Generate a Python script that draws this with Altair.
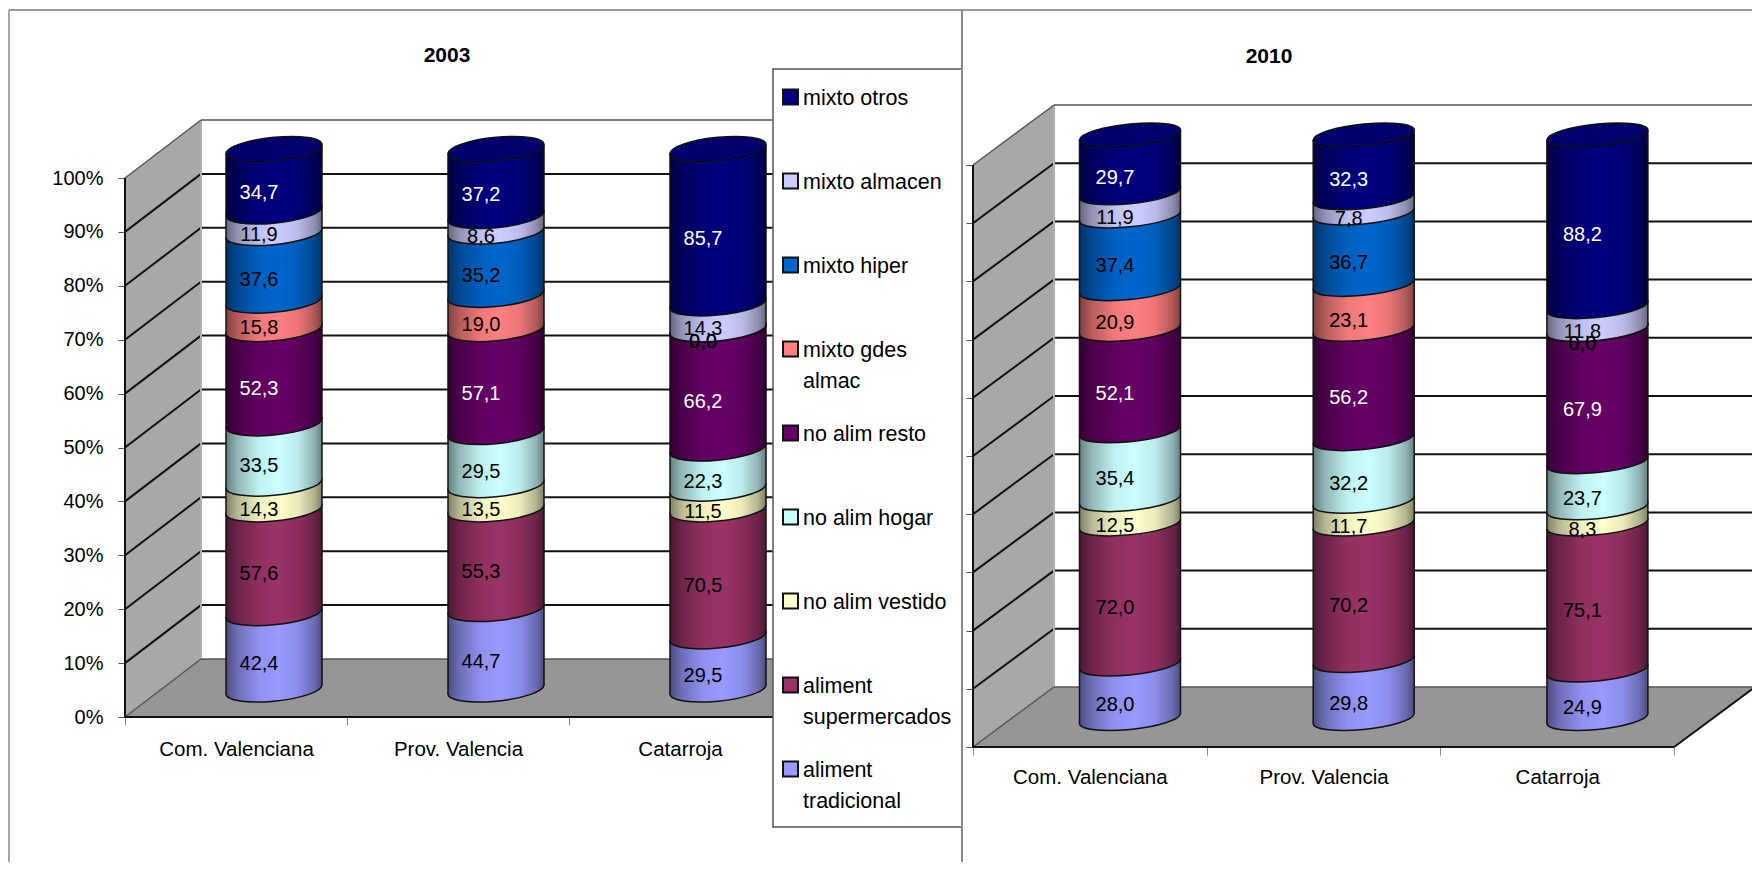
import altair as alt
import pandas as pd

categories = ["Com. Valenciana", "Prov. Valencia", "Catarroja"]
series = ["aliment tradicional", "aliment supermercados", "no alim vestido", "no alim hogar",
          "no alim resto", "mixto gdes almac", "mixto hiper", "mixto almacen", "mixto otros"]
colors = ["#9999FF", "#993366", "#FFFFCC", "#CCFFFF", "#660066", "#FF8080", "#0066CC", "#CCCCFF", "#000080"]
label_colors = ["black", "black", "black", "black", "white", "black", "black", "black", "white"]
legend_labels = ["aliment\ntradicional", "aliment\nsupermercados", "no alim vestido", "no alim hogar",
                 "no alim resto", "mixto gdes\nalmac", "mixto hiper", "mixto almacen", "mixto otros"]
values_2003 = [
    [42.4, 57.6, 14.3, 33.5, 52.3, 15.8, 37.6, 11.9, 34.7],
    [44.7, 55.3, 13.5, 29.5, 57.1, 19.0, 35.2, 8.6, 37.2],
    [29.5, 70.5, 11.5, 22.3, 66.2, 0.0, 0.0, 14.3, 85.7],
]
values_2010 = [
    [28.0, 72.0, 12.5, 35.4, 52.1, 20.9, 37.4, 11.9, 29.7],
    [29.8, 70.2, 11.7, 32.2, 56.2, 23.1, 36.7, 7.8, 32.3],
    [24.9, 75.1, 8.3, 23.7, 67.9, 0.0, 0.0, 11.8, 88.2],
]
axis_ticks = list(range(0, 101, 10))

FONT = "Liberation Sans"
W, H = 1744, 854
ONE = pd.DataFrame([{"a": 0}])


def shade(c, f):
    r, g, b = int(c[1:3], 16), int(c[3:5], 16), int(c[5:7], 16)
    return "#%02x%02x%02x" % (int(r * f), int(g * f), int(b * f))


def gradient(c):
    stops = [(0, .50), (.12, .72), (.35, .95), (.55, 1.0), (.75, .92), (.92, .70), (1, .50)]
    return {"gradient": "linear", "x1": 0, "x2": 1, "y1": 0, "y2": 0,
            "stops": [{"offset": o, "color": shade(c, f)} for o, f in stops]}


def ellipse_path(ry, slope):
    k = .5523
    pts = [(-1, 0), (-1, -k * ry), (-k, -ry), (0, -ry), (k, -ry), (1, -k * ry), (1, 0),
           (1, k * ry), (k, ry), (0, ry), (-k, ry), (-1, k * ry), (-1, 0)]
    p = [(x, y - slope * x) for x, y in pts]
    s = "M%.4f,%.4f" % p[0]
    for i in range(1, 13, 3):
        s += "C%.4f,%.4f %.4f,%.4f %.4f,%.4f" % (p[i] + p[i + 1] + p[i + 2])
    return s + "Z"


def panel(values, fl, step, dpx, fb, ft, dpy, cx, cb, ct, half, ry, slope, dy, labels, right_edge, xpad):
    """fl/fb/ft: front wall; dpx/dpy: depth; cx/cb/ct: first cylinder centre, base, top."""
    unit = (fb - ft) / 100
    dx, dp = dpx / step, dpy / unit
    X = alt.Scale(domain=[0, 3 + dx], range=[fl, fl + 3 * step + dpx])
    Y = alt.Scale(domain=[0, 100 + dp], range=[fb, ft - dpy])
    CX = alt.Scale(domain=[0, 3], range=[cx - step / 2, cx + 2.5 * step])
    CY = alt.Scale(domain=[0, 100], range=[cb, ct])
    hw = half / step
    t = half * slope / ((cb - ct) / 100)

    def xq(sc, f="x"):
        return alt.X(f"{f}:Q", scale=sc, axis=None)

    def yq(sc, f="y"):
        return alt.Y(f"{f}:Q", scale=sc, axis=None, stack=None)

    def rules(rows, color, width):
        return alt.Chart(pd.DataFrame(rows)).mark_rule(color=color, strokeWidth=width).encode(
            x=xq(X), x2="x2:Q", y=yq(Y), y2="y2:Q")

    layers = []
    # y axis and x axis
    layers.append(alt.Chart(pd.DataFrame({"p": axis_ticks})).mark_point(opacity=0).encode(
        x=alt.value(fl),
        y=alt.Y("p:Q", scale=alt.Scale(domain=[0, 100], range=[fb, ft]),
                axis=alt.Axis(orient="left", values=axis_ticks, labelExpr="datum.value + '%'", labels=labels, grid=False,
                              domain=False, tickSize=7, tickColor="#555555", tickWidth=1, labelPadding=15,
                              labelFont=FONT, labelFontSize=20, labelColor="black", title=None,
                              offset=-fl, labelOverlap=False))))
    layers.append(alt.Chart(pd.DataFrame({"c": categories})).mark_point(opacity=0).encode(
        y=alt.value(fb),
        x=alt.X("c:N", sort=None,
                scale=alt.Scale(type="band", domain=categories, range=[fl, fl + 3 * step], paddingInner=0, paddingOuter=0),
                axis=alt.Axis(orient="bottom", labelAngle=0, domain=False, tickBand="extent", tickSize=8, tickColor="#888888",
                              tickWidth=1, labelPadding=xpad, labelFont=FONT, labelFontSize=20.5, labelColor="black",
                              title=None, offset=fb - H, labelOverlap=False))))
    # side wall and floor
    layers.append(alt.Chart(pd.DataFrame({"x": [0, dx], "y": [100, 100 + dp], "y2": [0, dp]})).mark_area(
        orient="vertical", fill="#a8a8a8").encode(x=xq(X), y=yq(Y), y2="y2:Q"))
    layers.append(alt.Chart(pd.DataFrame({"x": [0, dx, 3, 3 + dx], "y": [0, dp, dp, dp], "y2": [0, 0, 0, dp]})).mark_area(
        orient="vertical", fill="#969696").encode(x=xq(X), y=yq(Y), y2="y2:Q"))
    # gridlines
    grid = []
    for p in axis_ticks[1:-1]:
        grid.append({"x": 0, "x2": dx, "y": p, "y2": p + dp})
        grid.append({"x": dx, "x2": 3 + dx, "y": p + dp, "y2": p + dp})
    layers.append(rules(grid, "#111111", 2))
    layers.append(rules([{"x": dx, "x2": dx, "y": dp, "y2": 100 + dp},
                         {"x": 3 + dx, "x2": 3 + dx, "y": dp, "y2": 100 + dp}], "#b0b0b0", 2))
    layers.append(rules([{"x": 0, "x2": dx, "y": 100, "y2": 100 + dp},
                         {"x": dx, "x2": 3 + dx, "y": 100 + dp, "y2": 100 + dp},
                         {"x": 0, "x2": dx, "y": 0, "y2": dp},
                         {"x": dx, "x2": 3 + dx, "y": dp, "y2": dp}], "#555555", 1.5))
    layers.append(rules([{"x": 0, "x2": 0, "y": 0, "y2": 100},
                         {"x": 0, "x2": 3, "y": 0, "y2": 0}], "#111111", 2))
    if right_edge:
        layers.append(rules([{"x": 3, "x2": 3 + dx, "y": 0, "y2": dp}], "#111111", 2))
    # cylinders, painted from the lowest segment upwards
    path = ellipse_path(ry, slope)
    size = (2 * half) ** 2
    text_rows = []
    for s, name in enumerate(series):
        ell, body = [], []
        for i, vals in enumerate(values):
            tot = sum(vals)
            c0 = sum(vals[:s]) / tot * 100
            c1 = sum(vals[:s + 1]) / tot * 100
            ell.append({"x": i + .5, "y": c0})
            body.append({"c": i, "x": i + .5 - hw, "y": c1 - t, "y2": c0 - t})
            body.append({"c": i, "x": i + .5 + hw, "y": c1 + t, "y2": c0 + t})
            text_rows.append({"x": i + .5, "y": (c0 + c1) / 2, "t": f"{vals[s]:.1f}".replace(".", ","),
                              "col": label_colors[s]})
        layers.append(alt.Chart(pd.DataFrame(ell)).mark_point(
            shape=path, size=size, filled=True, opacity=1, fill=gradient(colors[s]),
            stroke="#111111", strokeWidth=1.5).encode(x=xq(CX), y=yq(CY)))
        layers.append(alt.Chart(pd.DataFrame(body)).mark_area(orient="vertical", fill=gradient(colors[s])).encode(
            x=xq(CX), y=yq(CY), y2="y2:Q", detail="c:N"))
    sides = []
    for i in range(3):
        sides.append({"x": i + .5 - hw, "y": -t, "y2": 100 - t})
        sides.append({"x": i + .5 + hw, "y": t, "y2": 100 + t})
    layers.append(alt.Chart(pd.DataFrame(sides)).mark_rule(color="#111111", strokeWidth=1.5).encode(
        x=xq(CX), y=yq(CY), y2="y2:Q"))
    layers.append(alt.Chart(pd.DataFrame([{"x": i + .5, "y": 100} for i in range(3)])).mark_point(
        shape=path, size=size, filled=True, opacity=1, fill="#00006e",
        stroke="#111111", strokeWidth=1.5).encode(x=xq(CX), y=yq(CY)))
    layers.append(alt.Chart(pd.DataFrame(text_rows)).mark_text(
        font=FONT, fontSize=20, dx=-15, dy=dy, baseline="middle", align="center").encode(
        x=xq(CX), y=yq(CY), text="t:N", color=alt.Color("col:N", scale=None)))
    return layers


left = panel(values_2003, fl=117, step=222, dpx=76, fb=709, ft=170, dpy=58,
             cx=266, cb=681.5, ct=141, half=48, ry=.244, slope=.094, dy=13, labels=True, right_edge=False, xpad=14)
right = panel(values_2010, fl=965, step=233.7, dpx=81, fb=739, ft=157, dpy=60,
              cx=1122, cb=710.5, ct=127, half=50.5, ry=.216, slope=.099, dy=14, labels=False, right_edge=True, xpad=12)

# legend
leg = pd.DataFrame({"s": series[::-1], "t": legend_labels[::-1], "c": colors[::-1]})
LY = alt.Scale(type="point", domain=series[::-1], range=[89, 761], padding=0)
box = alt.Chart(ONE).mark_rect(fill="white", stroke="#555555", strokeWidth=1.5).encode(
    x=alt.value(765), x2=alt.value(954), y=alt.value(61), y2=alt.value(819))
swatch = alt.Chart(leg).mark_point(shape="square", size=225, filled=True, opacity=1, stroke="#111111", strokeWidth=2).encode(
    x=alt.value(782.5), y=alt.Y("s:N", scale=LY, axis=None, sort=None), fill=alt.Fill("c:N", scale=None))
legtext = alt.Chart(leg).mark_text(font=FONT, fontSize=21.5, align="left", baseline="top", dy=-9,
                                   lineBreak="\n", lineHeight=31, color="black").encode(
    x=alt.value(795), y=alt.Y("s:N", scale=LY, axis=None, sort=None), text="t:N")

# frame and titles
frame = [
    alt.Chart(ONE).mark_rule(color="#777777", strokeWidth=1.5).encode(x=alt.value(1), x2=alt.value(W), y=alt.value(2)),
    alt.Chart(ONE).mark_rule(color="#888888", strokeWidth=1.5).encode(x=alt.value(1), y=alt.value(2), y2=alt.value(H)),
    alt.Chart(ONE).mark_rule(color="#888888", strokeWidth=2).encode(x=alt.value(954), y=alt.value(2), y2=alt.value(H)),
]
t1 = alt.Chart(pd.DataFrame({"t": ["2003"]})).mark_text(font=FONT, fontSize=21, fontWeight="bold", color="black").encode(
    x=alt.value(439), y=alt.value(48), text="t:N")
t2 = alt.Chart(pd.DataFrame({"t": ["2010"]})).mark_text(font=FONT, fontSize=21, fontWeight="bold", color="black").encode(
    x=alt.value(1261), y=alt.value(49), text="t:N")

chart = alt.layer(*left, *right, box, swatch, legtext, *frame, t1, t2).resolve_scale(
    x="independent", y="independent").properties(
    width=W, height=H, padding=0, background="white",
    autosize=alt.AutoSizeParams(type="none")).configure_view(stroke=None)

chart.save("out.html", embed_options={"renderer": "svg", "actions": False})
